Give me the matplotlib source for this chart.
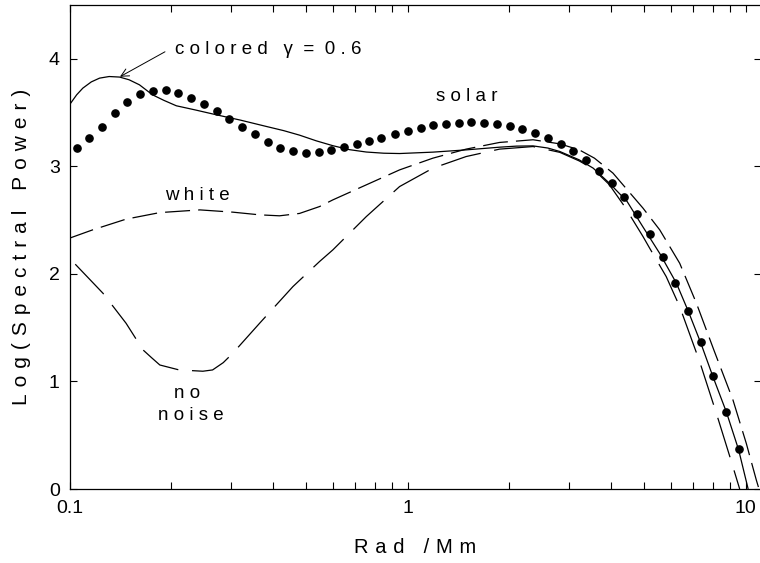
import matplotlib
matplotlib.use("Agg")
import matplotlib.pyplot as plt
from matplotlib.ticker import FixedLocator, LogLocator, NullFormatter, FixedFormatter

plt.rcParams['font.family'] = ['Liberation Sans', 'DejaVu Sans']

# ---- data ----
solar_x = [0.1051, 0.1144, 0.1249, 0.1361, 0.1484, 0.1619, 0.1763, 0.1923, 0.2097, 0.2285,
           0.2491, 0.2722, 0.2969, 0.3243, 0.3532, 0.3852, 0.4201, 0.4577, 0.5002, 0.5453,
           0.5946, 0.6478, 0.7067, 0.7704, 0.8360, 0.9152, 1.002, 1.093, 1.191, 1.298,
           1.415, 1.543, 1.686, 1.837, 2.004, 2.184, 2.380, 2.595, 2.836, 3.092,
           3.369, 3.674, 4.015, 4.377, 4.769, 5.211, 5.681, 6.194, 6.768, 7.360,
           8.005, 8.768, 9.535]
solar_y = [3.175, 3.268, 3.370, 3.495, 3.600, 3.672, 3.705, 3.712, 3.684, 3.637,
           3.575, 3.513, 3.442, 3.370, 3.296, 3.225, 3.175, 3.141, 3.126, 3.135,
           3.153, 3.181, 3.209, 3.234, 3.268, 3.296, 3.324, 3.355, 3.380, 3.398,
           3.407, 3.411, 3.407, 3.395, 3.377, 3.349, 3.309, 3.268, 3.207, 3.138,
           3.058, 2.961, 2.849, 2.716, 2.558, 2.369, 2.158, 1.916, 1.656, 1.365,
           1.048, 0.719, 0.369]

colored_x = [0.1, 0.105, 0.1095, 0.116, 0.1227, 0.131, 0.1406, 0.15, 0.161, 0.176,
             0.19, 0.207, 0.235, 0.272, 0.32, 0.383, 0.43, 0.479, 0.537, 0.601,
             0.673, 0.755, 0.85, 0.947, 1.188, 1.49, 1.87, 2.1, 2.35, 2.6,
             2.82, 3.22, 3.54, 3.95, 4.46, 4.96, 5.57, 6.24, 6.77, 7.36,
             8.0, 8.77, 9.53, 10.17]
colored_y = [3.572, 3.665, 3.727, 3.785, 3.820, 3.835, 3.830, 3.805, 3.758, 3.665,
             3.614, 3.563, 3.525, 3.479, 3.430, 3.370, 3.332, 3.290, 3.237, 3.192,
             3.155, 3.133, 3.122, 3.119, 3.132, 3.153, 3.178, 3.188, 3.190, 3.170,
             3.138, 3.060, 2.983, 2.844, 2.673, 2.440, 2.190, 1.913, 1.650, 1.360,
             1.045, 0.715, 0.365, 0.0]

white_x = [0.1, 0.117, 0.147, 0.185, 0.243, 0.304, 0.365, 0.418, 0.479, 0.549,
           0.601, 0.755, 0.947, 1.188, 1.49, 1.87, 2.35, 2.82, 3.22, 3.57,
           4.05, 4.97, 5.57, 6.38, 7.15, 8.05, 9.17, 10.04, 10.75, 10.95]
white_y = [2.332, 2.409, 2.509, 2.570, 2.595, 2.574, 2.549, 2.540, 2.562, 2.626,
           2.688, 2.828, 2.967, 3.076, 3.160, 3.222, 3.247, 3.209, 3.153, 3.076,
           2.937, 2.611, 2.409, 2.099, 1.727, 1.293, 0.828, 0.425, 0.084, 0.0]

nonoise_x = [0.104, 0.1256, 0.147, 0.165, 0.175, 0.185, 0.211, 0.248, 0.265, 0.285,
             0.304, 0.365, 0.458, 0.549, 0.601, 0.755, 0.947, 1.188, 1.49, 1.87,
             2.35, 2.82, 3.22, 3.54, 3.95, 4.385, 4.97, 5.20, 5.82, 6.38,
             7.31, 8.19, 8.98, 9.6]
nonoise_y = [2.090, 1.820, 1.541, 1.293, 1.220, 1.153, 1.107, 1.095, 1.107, 1.175,
             1.262, 1.541, 1.882, 2.115, 2.223, 2.533, 2.812, 2.983, 3.091, 3.160,
             3.184, 3.130, 3.050, 2.975, 2.830, 2.626, 2.347, 2.239, 1.975, 1.696,
             1.184, 0.704, 0.300, 0.0]

xticks = [0.1, 1, 10]
xtick_labels = ["0.1", "1", "10"]
yticks = [0, 1, 2, 3, 4]
ytick_labels = ["0", "1", "2", "3", "4"]


def spaced(s, sp=" "):
    return sp.join(s)


fig = plt.figure(figsize=(7.6, 5.63), dpi=100)
ax = fig.add_axes([69.5 / 760, 74 / 563, 691.5 / 760, 484 / 563])

lw = 0.9
ax.plot(colored_x, colored_y, color="black", lw=lw, solid_capstyle="butt")
ax.plot(white_x, white_y, color="black", lw=lw, dashes=(20, 6.5), dash_capstyle="butt")
ax.plot(nonoise_x, nonoise_y, color="black", lw=lw, dashes=(33, 11), dash_capstyle="butt")
ax.plot(solar_x, solar_y, linestyle="none", marker="o", markersize=5.2,
        markerfacecolor="black", markeredgecolor="black")

ax.set_xscale("log")
ax.set_xlim(0.1, 11.1)
ax.set_ylim(0, 4.5)

ax.xaxis.set_major_locator(FixedLocator(xticks))
ax.xaxis.set_major_formatter(FixedFormatter(xtick_labels))
ax.xaxis.set_minor_locator(LogLocator(base=10, subs=[2, 3, 4, 5, 6, 7, 8, 9]))
ax.xaxis.set_minor_formatter(NullFormatter())
ax.yaxis.set_major_locator(FixedLocator(yticks))
ax.yaxis.set_major_formatter(FixedFormatter(ytick_labels))

ax.tick_params(which="both", direction="in", top=True, right=True,
               length=5, width=0.8, labelsize=14, color="black")
ax.tick_params(axis="x", which="major", pad=8)
ax.tick_params(axis="y", which="major", pad=7)
for sp in ax.spines.values():
    sp.set_linewidth(0.9)

ax.set_xlabel(spaced("Rad /Mm", "\u2004"), fontsize=14.5)
ax.xaxis.set_label_coords(0.5, -0.101)
ax.set_ylabel(spaced("Log(Spectral Power)", "\u2004"), fontsize=15)
ax.yaxis.set_label_coords(-0.0557, 0.5)

fs = 13.5
ax.text(0.2051, 4.044, spaced("colored") + "   γ  =  " + spaced("0.6"),
        fontsize=fs, ha="left", va="baseline")
ax.annotate("", xy=(0.141, 3.833), xytext=(0.1916, 4.065),
            arrowprops=dict(arrowstyle="->", lw=0.7, color="black",
                            shrinkA=0, shrinkB=0, mutation_scale=14))
ax.text(1.5, 3.603, spaced("solar"), fontsize=fs, ha="center", va="baseline")
ax.text(0.2394, 2.688, spaced("white"), fontsize=fs, ha="center", va="baseline")
ax.text(0.2222, 0.847, spaced("no"), fontsize=fs, ha="center", va="baseline")
ax.text(0.2288, 0.642, spaced("noise"), fontsize=fs, ha="center", va="baseline")

fig.savefig("out.png", dpi=100)
